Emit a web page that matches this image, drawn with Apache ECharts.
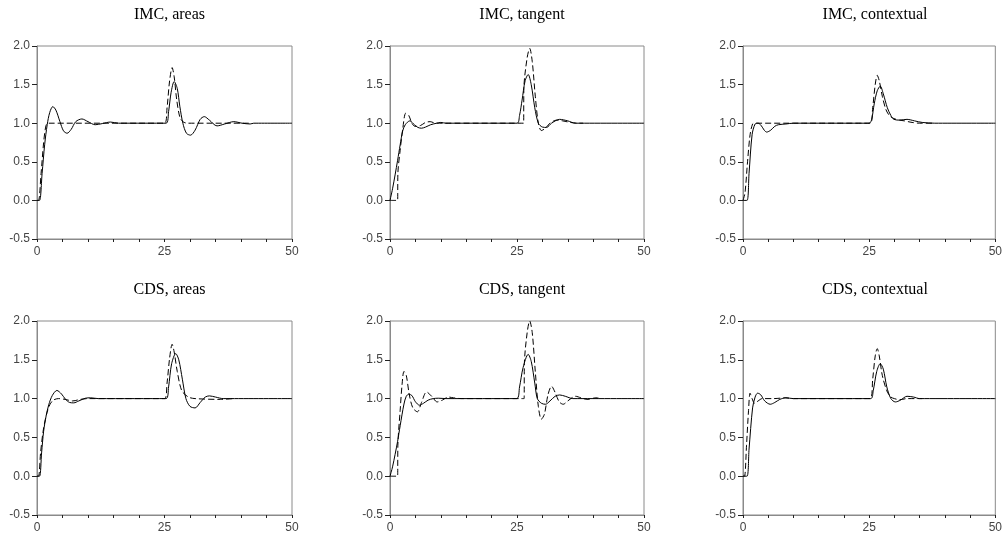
<!DOCTYPE html>
<html>
<head>
<meta charset="utf-8">
<script src="https://cdn.jsdelivr.net/npm/echarts@6/dist/echarts.min.js"></script>
<style>html,body{margin:0;padding:0;background:#fff}#c{width:1005px;height:537px}</style>
</head>
<body>
<div id="c"></div>
<script>
var titles = ["IMC, areas","IMC, tangent","IMC, contextual","CDS, areas","CDS, tangent","CDS, contextual"];
var xTickLabels = [0, 25, 50];

var imcAreasSolid = [[0,0],[0.5,0],[1,0.35],[1.5,0.72],[2,0.98],[2.5,1.14],[3.1,1.215],[3.7,1.17],[4.5,1.02],[5.2,0.9],[5.9,0.87],[6.7,0.92],[7.6,1.02],[8.8,1.055],[10,1.02],[11.4,0.98],[12.8,0.995],[14.4,1.015],[16,1.0],[25.3,1.0],[25.8,1.15],[26.3,1.4],[26.9,1.54],[27.5,1.45],[28,1.22],[28.6,1.0],[29.3,0.87],[30.1,0.845],[31,0.91],[32,1.05],[32.8,1.085],[33.8,1.04],[35.3,0.965],[36.8,0.99],[38.6,1.02],[40.2,1.0],[41.8,0.99],[42.5,1.0],[50,1.0]];
var imcAreasDashed = [[0,0],[0.3,0],[0.8,0.35],[1.3,0.75],[1.7,0.95],[2.1,1.0],[25,1.0],[25.5,1.2],[26,1.55],[26.5,1.72],[26.9,1.6],[27.4,1.3],[28,1.08],[28.6,1.02],[29.5,1.0],[42,1.0]];

var imcTangentSolid = [[0,0],[0.5,0.15],[1,0.33],[1.5,0.52],[2,0.72],[2.5,0.9],[3,0.98],[3.9,1.03],[4.8,0.98],[5.5,0.945],[6.2,0.935],[7,0.95],[8,0.98],[9.2,1.0],[10,1.01],[11,1.0],[25,1.0],[25.5,1.1],[26,1.3],[26.6,1.55],[27.2,1.63],[27.8,1.5],[28.5,1.2],[29.2,1.0],[30,0.95],[30.8,0.945],[31.8,1.0],[33.4,1.05],[35,1.03],[36.5,1.0],[50,1.0]];
var imcTangentDashed = [[0,0],[1.5,0],[1.55,0.35],[2,0.65],[2.5,0.92],[3.1,1.13],[3.7,1.1],[4.3,1.0],[4.9,0.96],[6,0.97],[7,1.01],[7.9,1.02],[9,1.0],[10.5,1.0],[26.3,1.0],[26.35,1.45],[27,1.85],[27.5,1.97],[28,1.8],[28.6,1.35],[29.2,1.0],[29.8,0.905],[30.5,0.93],[31.5,1.0],[32.8,1.04],[34,1.03],[35.5,1.01],[37,1.0],[38,1.0]];

var imcContextSolid = [[0,0],[0.8,0],[1.2,0.35],[1.8,0.85],[2.4,0.99],[3,1.0],[3.6,0.97],[4.2,0.91],[4.7,0.885],[5.5,0.91],[6.3,0.96],[7,0.98],[8.5,0.99],[10,1.0],[25,1.0],[25.5,1.05],[26,1.25],[26.6,1.42],[27.2,1.48],[27.8,1.38],[28.6,1.2],[29.3,1.1],[29.9,1.05],[31,1.04],[32.5,1.05],[34,1.03],[35.5,1.01],[38,1.0],[50,1.0]];
var imcContextDashed = [[0,0],[0.4,0.1],[0.9,0.5],[1.4,0.85],[1.9,0.99],[2.3,1.0],[12,1.0],[25.2,1.0],[25.7,1.2],[26.2,1.5],[26.6,1.62],[27,1.55],[27.6,1.35],[28.3,1.18],[29,1.1],[29.9,1.06],[31,1.04],[32,1.03],[33.5,1.01],[35,1.0],[38,1.0]];

var cdsAreasSolid = [[0,0],[0.5,0],[0.9,0.3],[1.3,0.58],[1.8,0.78],[2.3,0.92],[3,1.04],[3.9,1.105],[4.8,1.06],[5.6,0.99],[6.4,0.95],[7.2,0.945],[8.2,0.97],[9.5,1.005],[10.5,1.01],[12,1.0],[25.3,1.0],[25.8,1.15],[26.4,1.45],[27.2,1.58],[27.8,1.5],[28.5,1.25],[29.2,1.0],[30,0.9],[31,0.88],[32,0.95],[33,1.02],[33.8,1.035],[35,1.02],[36.5,1.0],[38,1.0],[50,1.0]];
var cdsAreasDashed = [[0,0],[0.3,0],[0.7,0.3],[1.2,0.58],[1.8,0.78],[2.5,0.92],[3.2,0.98],[4.2,1.0],[5.5,0.99],[7,0.97],[8.5,0.99],[10,1.0],[25,1.0],[25.5,1.2],[26,1.52],[26.5,1.7],[26.9,1.6],[27.5,1.35],[28.4,1.1],[29.7,1.02],[31,1.0],[36,0.99],[38.5,1.0]];

var cdsTangentSolid = [[0,0],[0.5,0.12],[1,0.28],[1.5,0.45],[2,0.65],[2.75,0.93],[3.2,1.03],[3.7,1.056],[4.3,1.04],[5,0.96],[5.8,0.915],[6.6,0.94],[7.5,0.98],[8.5,1.0],[9.5,1.005],[11,1.0],[24.9,1.0],[25.5,1.15],[26.2,1.4],[27.2,1.57],[27.8,1.48],[28.5,1.2],[29,1.0],[29.8,0.94],[30.6,0.927],[31.5,0.97],[32.5,1.03],[33.4,1.047],[34.5,1.03],[36,1.0],[50,1.0]];
var cdsTangentDashed = [[0,0],[1.5,0],[1.55,0.4],[2,0.85],[2.4,1.2],[2.75,1.35],[3.2,1.3],[3.8,1.05],[4.5,0.88],[5.4,0.83],[6.2,0.95],[7.2,1.086],[8.2,1.03],[9.3,0.957],[10.3,0.98],[11.5,1.02],[12.5,1.01],[14,1.0],[26.4,1.0],[26.45,1.45],[27,1.85],[27.5,2.0],[28,1.85],[28.6,1.35],[29.2,0.9],[29.8,0.734],[30.4,0.8],[31.1,1.05],[31.8,1.159],[32.5,1.08],[33.3,0.96],[34.1,0.927],[35,0.97],[36.5,1.03],[38,1.0],[39,0.99],[40.5,1.01],[41.5,1.0]];

var cdsContextSolid = [[0,0],[0.8,0],[1.2,0.35],[1.9,0.88],[2.4,1.02],[2.9,1.07],[3.5,1.05],[4.3,0.97],[5.4,0.927],[6.3,0.95],[7.3,0.99],[8.5,1.01],[10,1.0],[25.3,1.0],[25.8,1.1],[26.5,1.35],[27.2,1.45],[27.8,1.38],[28.5,1.15],[29.3,1.0],[30.2,0.957],[31.2,0.98],[32.5,1.03],[33.8,1.02],[35,1.0],[50,1.0]];
var cdsContextDashed = [[0,0],[0.3,0],[0.7,0.4],[1.1,0.85],[1.4,1.07],[1.8,1.0],[2.3,0.94],[3,0.97],[3.8,1.0],[6,1.0],[8.5,1.01],[10,1.0],[25.2,1.0],[25.7,1.25],[26.2,1.55],[26.6,1.644],[27,1.55],[27.6,1.3],[28.5,1.1],[29.3,1.02],[30,1.0],[31,0.985],[32.5,1.0],[35.5,1.0]];

var solidSets = [imcAreasSolid, imcTangentSolid, imcContextSolid, cdsAreasSolid, cdsTangentSolid, cdsContextSolid];
var dashedSets = [imcAreasDashed, imcTangentDashed, imcContextDashed, cdsAreasDashed, cdsTangentDashed, cdsContextDashed];

var lefts = [37, 390, 743];
var widths = [255, 254, 254];
var tops = [46, 321];
var heights = [193, 194];

var grid = [], xAxis = [], yAxis = [], series = [], title = [];
for (var i = 0; i < 6; i++) {
  var r = Math.floor(i / 3), c = i % 3;
  grid.push({left: lefts[c], top: tops[r], width: widths[c], height: heights[r],
    show: true, borderColor: '#8a8a8a', borderWidth: 1, backgroundColor: 'transparent'});
  title.push({text: titles[i], left: lefts[c] + widths[c] / 2, top: tops[r] - 44, textAlign: 'center',
    textStyle: {fontFamily: 'Liberation Serif', fontWeight: 'normal', fontSize: 16, color: '#000'}});
  xAxis.push({type: 'value', gridIndex: i, min: 0, max: 50, interval: 5,
    axisLine: {show: true, onZero: false, lineStyle: {color: '#8a8a8a', width: 1}},
    axisTick: {show: true, length: 3, lineStyle: {color: '#222'}},
    axisLabel: {show: true, margin: 7, color: '#444', fontSize: 12, fontFamily: 'Liberation Sans',
      formatter: function (v) { return xTickLabels.indexOf(v) >= 0 ? String(v) : ''; }},
    splitLine: {show: false}});
  yAxis.push({type: 'value', gridIndex: i, min: -0.5, max: 2, interval: 0.5,
    axisLine: {show: true, onZero: false, lineStyle: {color: '#8a8a8a', width: 1}},
    axisTick: {show: true, length: 5, lineStyle: {color: '#222'}},
    axisLabel: {show: true, margin: 7, color: '#444', fontSize: 12, fontFamily: 'Liberation Sans',
      formatter: function (v) { return v.toFixed(1); }},
    splitLine: {show: false}});
  series.push({type: 'line', xAxisIndex: i, yAxisIndex: i, data: solidSets[i], showSymbol: false,
    smooth: 0.3, lineStyle: {color: '#000', width: 1}, z: 3});
  series.push({type: 'line', xAxisIndex: i, yAxisIndex: i, data: dashedSets[i], showSymbol: false,
    smooth: 0.3, lineStyle: {color: '#000', width: 1, type: [6, 3]}, z: 2});
}

var chart = echarts.init(document.getElementById('c'));
chart.setOption({animation: false, backgroundColor: '#fff', title: title, grid: grid, xAxis: xAxis, yAxis: yAxis, series: series});
</script>
</body>
</html>
